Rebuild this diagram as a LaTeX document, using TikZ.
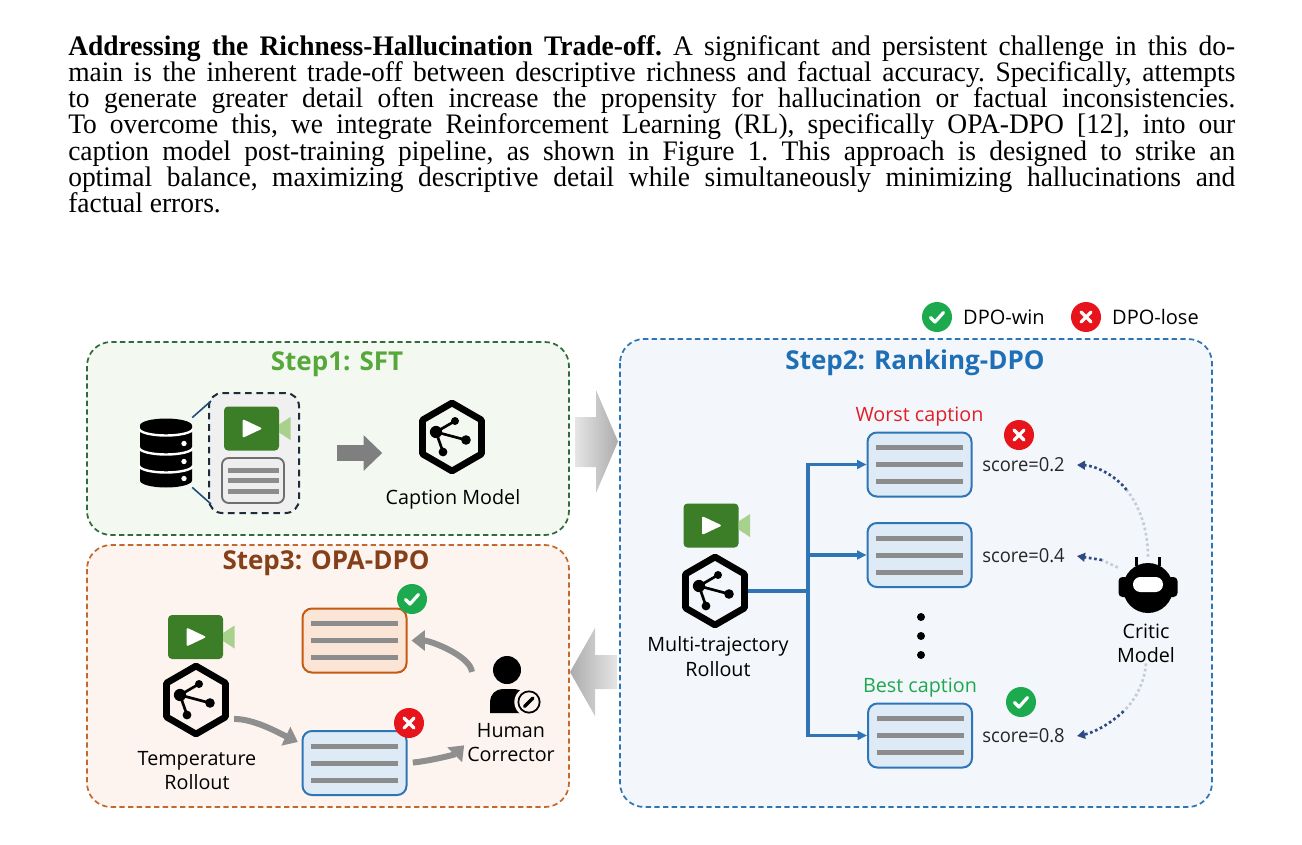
\documentclass[tikz,border=0pt]{standalone}
\usepackage{fontspec}
\setmainfont{Liberation Serif}
\newfontfamily\paratext[FakeStretch=0.972]{Liberation Serif}
\newfontfamily\sansdiag{Open Sans}
\newfontfamily\scorefont[FakeStretch=0.95]{Open Sans}
\usepackage{tikz}
\usetikzlibrary{arrows.meta}
\usetikzlibrary{positioning}
\usetikzlibrary{shapes.geometric}

\definecolor{p1line}{HTML}{2F6B3B}
\definecolor{p1fill}{HTML}{F3F9F0}
\definecolor{p3line}{HTML}{C5682E}
\definecolor{p3fill}{HTML}{FDF4EF}
\definecolor{p2line}{HTML}{2E75B6}
\definecolor{p2fill}{HTML}{F3F6FA}
\definecolor{t1col}{HTML}{57A83B}
\definecolor{t2col}{HTML}{1F6FB6}
\definecolor{t3col}{HTML}{85401A}
\definecolor{smpline}{HTML}{1E2B3A}
\definecolor{smpfill}{HTML}{F0F0F0}
\definecolor{docgray}{HTML}{6F6F6F}
\definecolor{docfill}{HTML}{EEEEEE}
\definecolor{barcol}{HTML}{8C8C8C}
\definecolor{capblue}{HTML}{2E75B6}
\definecolor{capbluefill}{HTML}{DEEBF7}
\definecolor{capor}{HTML}{C55A11}
\definecolor{caporfill}{HTML}{FBE5D6}
\definecolor{okgreen}{HTML}{1DAA4E}
\definecolor{nored}{HTML}{E8141C}
\definecolor{worstred}{HTML}{E11F26}
\definecolor{bestgreen}{HTML}{1EA84E}
\definecolor{vidgreen}{HTML}{3C7D27}
\definecolor{lensgreen}{HTML}{A9D18E}
\definecolor{arrgray}{HTML}{7F7F7F}
\definecolor{arrgray2}{HTML}{8F8F8F}
\definecolor{branchblue}{HTML}{2F75B6}
\definecolor{navy}{HTML}{2E4A85}
\definecolor{critlight}{HTML}{C5CCD9}
\definecolor{linkblue}{HTML}{1F4E79}
\definecolor{scoretext}{HTML}{262626}

\begin{document}
\begin{tikzpicture}[x={(0.75pt,0)}, y={(0,-0.75pt)},
  panel/.style={dash pattern=on 4pt off 2.5pt, line width=1.3pt, rounded corners=18pt},
  steptitle/.style={font=\sansdiag\bfseries\fontsize{19.5}{22}\selectfont, inner sep=0pt},
  lbl/.style={font=\sansdiag\fontsize{14.8}{18.5}\selectfont, align=center, inner sep=0pt},
  legtxt/.style={font=\sansdiag\fontsize{15}{17}\selectfont, inner sep=0pt},
  score/.style={font=\scorefont\fontsize{14.5}{17}\selectfont, text=scoretext, inner xsep=9pt, inner ysep=0pt},
  iconbox/.style={inner sep=0pt},
  bars/.style 2 args={path picture={
    \begin{scope}[shift={(path picture bounding box.center)}]
      \foreach \k in {-1,0,1}
        \draw[line width=3.75pt, draw=barcol] (-#1,\k*#2) -- (#1,\k*#2);
    \end{scope}}},
  capbox/.style={draw=capblue, fill=capbluefill, line width=1.5pt, rounded corners=7pt,
    minimum width=78pt, minimum height=48pt, inner sep=0pt, bars={43.5}{17}},
  doc/.style={draw=docgray, fill=docfill, line width=1.4pt, rounded corners=5pt,
    minimum width=46.5pt, minimum height=33.75pt, inner sep=0pt, bars={25.5}{10.5}},
  smpbox/.style={draw=smpline, fill=smpfill, line width=1.5pt, dash pattern=on 5pt off 3.5pt,
    rounded corners=10pt, minimum width=67.5pt, minimum height=90pt, inner sep=0pt},
  model/.style={draw=black, regular polygon, regular polygon sides=6, shape border rotate=30,
    minimum size=51pt, line width=5pt, line join=round, inner sep=0pt},
  okmark/.style={circle, fill=okgreen, minimum size=22.5pt, inner sep=0pt, path picture={
    \begin{scope}[shift={(path picture bounding box.center)}]
      \draw[white, line width=2.4pt, line cap=round, line join=round] (-6.5,0.5) -- (-2,5) -- (6.5,-4.5);
    \end{scope}}},
  nomark/.style={circle, fill=nored, minimum size=22.5pt, inner sep=0pt, path picture={
    \begin{scope}[shift={(path picture bounding box.center)}]
      \draw[white, line width=2.4pt, line cap=round] (-5,-5) -- (5,5) (-5,5) -- (5,-5);
    \end{scope}}},
  link/.style={draw=linkblue, line width=1.2pt},
  fat/.style={draw=arrgray, line width=12pt, -{Triangle[length=14pt,width=26pt]},
    shorten <=27.75pt, shorten >=27.75pt},
  gcurve/.style={draw=arrgray2, line width=4.5pt, -{Triangle[length=10pt,width=15pt]},
    shorten <=4pt, shorten >=3pt},
  branch/.style={draw=branchblue, line width=2.3pt},
  tipped/.style={-{Triangle[length=7pt,width=6.5pt]}},
  critlt/.style={draw=critlight, line width=2pt, dash pattern=on 2pt off 2pt},
  critdk/.style={draw=navy, line width=2pt, dash pattern=on 2pt off 2pt, -{Triangle[length=6pt,width=6.5pt]}},
  video/.pic={
    \fill[vidgreen, rounded corners=3pt] (-27.5,-22) rectangle (27.5,22);
    \fill[lensgreen] (27.5,-4) -- (39,-11.5) -- (39,11.5) -- (27.5,4) -- cycle;
    \fill[white, rounded corners=1.5pt] (-9,-9.5) -- (11,0) -- (-9,9.5) -- cycle;
  },
  dbase/.pic={
    \fill (-26,-27) arc[start angle=180, end angle=360, x radius=26, y radius=7]
      -- (26,28) arc[start angle=0, end angle=180, x radius=26, y radius=7] -- cycle;
    \foreach \yy in {-24,-5,13}
      \draw[white, line width=1.8pt] (-27,\yy) arc[start angle=180, end angle=0, x radius=27, y radius=7];
    \foreach \yy in {-9,9,26}
      \fill[white] (18,\yy) circle[radius=2pt];
  },
  human/.pic={
    \fill (-1,-20) circle[radius=10.5pt];
    \fill (-18,23) [rounded corners=9.5pt] -- (-18,-1) -- (19,-1) [sharp corners] -- (19,23) -- cycle;
    \fill[p3fill] (21,12) circle[radius=11pt];
    \draw[line width=1.3pt] (21,12) circle[radius=8pt];
    \draw[line width=2.6pt, line cap=round] (16.5,16.5) -- (25,8);
  },
  robot/.pic={
    \fill (-13,-28) rectangle (-10,-19);
    \fill (10,-28) rectangle (13,-19);
    \fill (0,3) circle[radius=18.75pt];
    \fill[rounded corners=3pt] (-29.5,-8) rectangle (29.5,12);
    \fill[white, rounded corners=5.5pt] (-15,-8) rectangle (15,7);
  },
  share/.pic={
    \draw[line width=2pt] (-16,-5) -- (3,-16) (-16,-5) -- (14,3) (-16,-5) -- (-9,15);
    \fill (-16,-5) circle[radius=4.6pt] (3,-16) circle[radius=3pt]
      (14,3) circle[radius=3.6pt] (-9,15) circle[radius=3.3pt];
  }]

\path[use as bounding box, fill=white] (0,0) rectangle (1302,845);

\node[anchor=north west, inner sep=0pt, text width=875.25pt, align=justify,
  font=\paratext\fontsize{21.2}{19.7}\selectfont] (para) at (68,35)
  {\frenchspacing\baselineskip=19.7pt\lineskiplimit=-20pt\lineskip=0pt
  \textbf{Addressing the Richness-Hallucination Trade-off.} A significant and persistent challenge in this do-\linebreak
  main is the inherent trade-off between descriptive richness and factual accuracy. Specifically, attempts\linebreak
  to generate greater detail often increase the propensity for hallucination or factual inconsistencies.\linebreak
  To overcome this, we integrate Reinforcement Learning (RL), specifically OPA-DPO [12], into our\linebreak
  caption model post-training pipeline, as shown in Figure 1. This approach is designed to strike an\linebreak
  optimal balance, maximizing descriptive detail while simultaneously minimizing hallucinations and\linebreak
  factual errors.\par};

\draw[panel, draw=p1line, fill=p1fill] (87,342) rectangle (569,535);
\draw[panel, draw=p3line, fill=p3fill] (87,545) rectangle (569,807);
\draw[panel, draw=p2line, fill=p2fill] (620,339) rectangle (1212,807);

\shade[left color=gray!20, right color=gray!65] (575,417) -- (596,417) -- (596,390) -- (618,441.5)
  -- (596,493) -- (596,467) -- (575,467) -- cycle;
\shade[left color=gray!65, right color=gray!20] (617,655) -- (595,655) -- (595,628) -- (570,672)
  -- (595,716) -- (595,689) -- (617,689) -- cycle;

\node[okmark] (lgw) at (937,317) {};
\node[legtxt] (lgwt) [right=8pt of lgw] {DPO-win};
\node[nomark] (lgl) at (1086,317) {};
\node[legtxt] (lglt) [right=8pt of lgl] {DPO-lose};

\node[steptitle, text=t1col] (t1) at (337,364) {Step1: SFT};
\node[iconbox, minimum width=39pt, minimum height=52pt] (db) at (166,452.5) {};
\pic at (db) {dbase};
\node[smpbox] (smp) at (254,453) {};
\pic at (251.5,428.5) {video};
\node[doc] (doc) at (253,480.5) {};
\draw[link] (db.north east) -- ([shift={(3,9)}]smp.north west);
\draw[link] (db.south east) -- ([shift={(3,-10)}]smp.south west);
\node[model] (m1) at (452,437) {};
\pic at (m1) {share};
\node[lbl] (m1l) at (453,499) {Caption Model};
\draw[fat] (smp.east) -- (smp.east -| m1.west);

\node[steptitle, text=t3col] (t3) at (326,563) {Step3: OPA-DPO};
\pic at (195.5,637) {video};
\node[model] (m3) at (196,700) {};
\pic at (m3) {share};
\node[lbl] (m3l) at (197,770.5) {Temperature\\Rollout};
\node[capbox, draw=capor, fill=caporfill] (cb1) at (354.5,640.5) {};
\node[capbox] (cb2) at (354.5,763) {};
\node[okmark] (o3) at (412,599) {};
\node[nomark] (x3) at (409,723) {};
\node[iconbox, minimum width=52.5pt, minimum height=37.5pt] (hum) at (508,690) {};
\pic at (hum) {human};
\node[lbl] (huml) at (511,742.5) {Human\\Corrector};
\draw[gcurve] (m3.-30) .. controls +(25,0) and +(-25,-12) .. (cb2.160);
\draw[gcurve] (cb2.east) .. controls +(22,-2) and +(-12,12) .. (huml.west);
\draw[gcurve] (hum.160) .. controls +(-3,-22) and +(22,0) .. (cb1.east);

\node[steptitle, text=t2col] (t2) at (915,363) {Step2: Ranking-DPO};
\pic at (711,525.5) {video};
\node[model] (m2) at (715,591) {};
\pic at (m2) {share};
\node[lbl] (m2l) at (718,656.5) {Multi-trajectory\\Rollout};
\node[capbox] (cw) at (919.5,464.5) {};
\node[capbox] (cm) at (919.5,555) {};
\node[capbox] (cb) at (920,735.5) {};
\node[lbl, text=worstred] (wl) [above=3.5pt of cw] {Worst caption};
\node[lbl, text=bestgreen] (bl) [above=4pt of cb] {Best caption};
\coordinate (j) at (808,591);
\draw[branch] (m2.east) -- (j);
\draw[branch, tipped] (j) |- (cw.west);
\draw[branch, tipped] (j) |- (cm.west);
\draw[branch, tipped] (j) |- (cb.west);
\foreach \yy in {617,636,655}
  \fill (921,\yy) circle[radius=3pt];
\node[nomark] (x2) at (1019,435) {};
\node[okmark] (o2) at (1021,702) {};
\node[score] (s1) at (1023.5,465) {score=0.2};
\node[score] (s2) at (1023.5,556) {score=0.4};
\node[score] (s3) at (1023.5,736) {score=0.8};
\node[iconbox, minimum width=45pt, minimum height=42pt] (crit) at (1148,585) {};
\pic at (crit) {robot};
\node[lbl] (cl) at (1146,643.5) {Critic\\Model};
\coordinate (c1) at (1126.6,489.9);
\coordinate (c2) at (1102,560);
\coordinate (c3) at (1123.5,711.25);
\draw[critlt] (crit.north) .. controls +(0,-28) and +(12.4,15.6) .. (c1);
\draw[critdk] (c1) .. controls +(-12.35,-15.65) and +(17.5,0.5) .. (s1.east);
\draw[critlt] (crit.150) .. controls +(-8,-3) .. (c2);
\draw[critdk] (c2) -- (s2.east);
\draw[critlt] (cl.south) .. controls +(-1.5,18.5) and +(12.5,-12) .. (c3);
\draw[critdk] (c3) .. controls +(-12.5,12) and +(17.5,-3.5) .. (s3.east);

\end{tikzpicture}
\end{document}
